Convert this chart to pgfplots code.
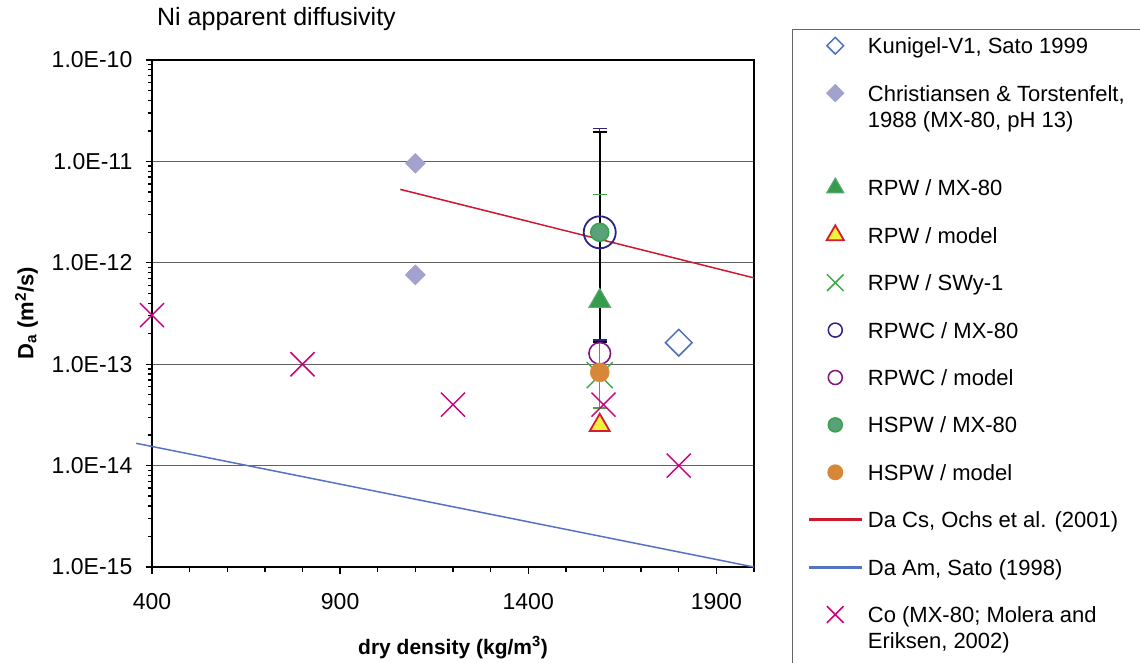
\documentclass[border=0pt]{standalone}
\usepackage{fontspec}
\setmainfont{Liberation Sans}
\usepackage{pgfplots}
\pgfplotsset{compat=1.18}

\definecolor{kunBlue}{RGB}{74,110,190}
\definecolor{chrLav}{RGB}{162,162,206}
\definecolor{triFill}{RGB}{55,155,75}
\definecolor{triEdge}{RGB}{90,170,120}
\definecolor{yelFill}{RGB}{245,240,60}
\definecolor{yelEdge}{RGB}{210,30,45}
\definecolor{swyGreen}{RGB}{60,170,75}
\definecolor{rpwcNavy}{RGB}{45,35,135}
\definecolor{rpwcPurple}{RGB}{130,20,130}
\definecolor{hspwFill}{RGB}{90,160,120}
\definecolor{hspwEdge}{RGB}{50,165,75}
\definecolor{hspwOrange}{RGB}{215,135,55}
\definecolor{ochsRed}{RGB}{205,25,45}
\definecolor{amBlue}{RGB}{85,115,195}
\definecolor{coMag}{RGB}{205,0,125}

\begin{document}
\begin{tikzpicture}
\begin{axis}[
  at={(152pt,95pt)}, anchor=south west,
  scale only axis, width=602pt, height=507pt,
  xmin=400, xmax=2000,
  ymode=log, ymin=1e-15, ymax=1e-10,
  clip=false,
  axis line style={black, line width=1.8pt},
  xtick={400,900,1400,1900},
  xticklabels={400,900,1400,1900},
  minor xtick={500,600,700,800,1000,1100,1200,1300,1500,1600,1700,1800,2000},
  ytick={1e-15,1e-14,1e-13,1e-12,1e-11,1e-10},
  yticklabels={1.0E-15,1.0E-14,1.0E-13,1.0E-12,1.0E-11,1.0E-10},
  minor ytick={2e-15,3e-15,4e-15,5e-15,6e-15,7e-15,8e-15,9e-15,
               2e-14,3e-14,4e-14,5e-14,6e-14,7e-14,8e-14,9e-14,
               2e-13,3e-13,4e-13,5e-13,6e-13,7e-13,8e-13,9e-13,
               2e-12,3e-12,4e-12,5e-12,6e-12,7e-12,8e-12,9e-12,
               2e-11,3e-11,4e-11,5e-11,6e-11,7e-11,8e-11,9e-11},
  tick pos=left, tick align=outside,
  major tick length=6.5pt, minor tick length=4.5pt,
  every tick/.style={black, line width=1.3pt},
  ymajorgrids, major grid style={black!62, line width=1.3pt},
  /pgf/number format/assume math mode=true,
  ticklabel style={font=\fontsize{23}{27}\selectfont},
  yticklabel style={anchor=east, inner sep=0pt, xshift=-13pt},
  xticklabel style={anchor=north, inner sep=0pt, yshift=-20pt},
  title={Ni apparent diffusivity},
  title style={at={(axis description cs:0.0083,1.0572)}, anchor=base west,
               inner sep=0pt, font=\fontsize{25}{30}\selectfont},
  xlabel={dry density (kg/m\textsuperscript{3})},
  xlabel style={at={(axis description cs:0.5,-0.1716)}, anchor=base,
                inner sep=0pt, font=\fontsize{21}{25}\selectfont\bfseries},
  ylabel={D\textsubscript{a} (m\textsuperscript{2}/s)},
  ylabel style={at={(axis description cs:-0.1972,0.5)}, anchor=base,
                inner sep=0pt, font=\fontsize{22}{26}\selectfont\bfseries},
  legend image code/.code={\draw[mark repeat=2,mark phase=2,#1]
      plot coordinates {(0pt,0pt) (26pt,0pt) (52pt,0pt)};},
  legend style={at={(axis description cs:1.0631,1.0611)}, anchor=north west,
      draw=black!60, line width=1.3pt, fill=white,
      inner xsep=16pt, inner ysep=5pt, row sep=25.4pt, column sep=6pt,
      font=\fontsize{22}{26}\selectfont,
      nodes={inner sep=0pt, text height=19pt, text depth=3pt, anchor=west},
      cells={anchor=west}},
]

% trend lines (drawn first so the markers sit on top)
\addplot[forget plot, draw=ochsRed, line width=1.5pt, mark=none]
  coordinates {(1060,5.3e-12) (2000,7.1e-13)};
\addplot[forget plot, draw=amBlue, line width=1.5pt, mark=none]
  coordinates {(358,1.66e-14) (2000,1e-15)};

% error bars of the 1590 kg/m3 measurements: bar, then caps
\addplot[forget plot, draw=swyGreen, line width=1.3pt, mark=-, mark size=7pt,
  mark options={draw=swyGreen, line width=1.3pt}]
  coordinates {(1590,3.7e-14) (1590,4.7e-12)};
\addplot[forget plot, draw=rpwcNavy, line width=1.3pt, mark=-, mark size=7pt,
  mark options={draw=rpwcNavy, line width=1.3pt}]
  coordinates {(1590,1.73e-13) (1590,2.12e-11)};
\addplot[forget plot, draw=black, line width=2.2pt, mark=-, mark size=7pt,
  mark options={draw=black, line width=2pt}]
  coordinates {(1590,1.67e-13) (1590,1.96e-11)};

% Kunigel-V1, Sato 1999
\addplot[forget plot, only marks, mark=square, mark size=9.4pt,
  mark options={rotate=45, draw=kunBlue, line width=1.5pt}]
  coordinates {(1800,1.63e-13)};
\addlegendimage{only marks, mark=square, mark size=5.9pt,
  mark options={rotate=45, draw=kunBlue, line width=1.5pt}}
\addlegendentry{Kunigel-V1, Sato 1999}

% Christiansen & Torstenfelt
\addplot[forget plot, only marks, mark=square*, mark size=7.1pt,
  mark options={rotate=45, draw=chrLav, fill=chrLav}]
  coordinates {(1100,9.6e-12) (1100,7.6e-13)};
\addlegendimage{only marks, mark=square*, mark size=5.9pt,
  mark options={rotate=45, draw=chrLav, fill=chrLav}}
\addlegendentry{{\begin{tabular}[t]{@{}l@{}}Christiansen \& Torstenfelt,\hspace*{45pt}\\1988 (MX-80, pH 13)\end{tabular}}}

\addlegendimage{empty legend}
\addlegendentry{}

% RPW / MX-80
\addplot[forget plot, only marks, mark=triangle*, mark size=12.5pt,
  mark options={draw=triEdge, fill=triFill, line width=1pt}]
  coordinates {(1590,4.2e-13)};
\addlegendimage{only marks, mark=triangle*, mark size=10pt,
  mark options={draw=triEdge, fill=triFill, line width=1pt}}
\addlegendentry{RPW / MX-80}

% RPW / model
\addplot[forget plot, only marks, mark=triangle*, mark size=11.5pt,
  mark options={draw=yelEdge, fill=yelFill, line width=1.8pt}]
  coordinates {(1590,2.5e-14)};
\addlegendimage{only marks, mark=triangle*, mark size=10pt,
  mark options={draw=yelEdge, fill=yelFill, line width=1.8pt}}
\addlegendentry{RPW / model}

% RPW / SWy-1
\addplot[forget plot, only marks, mark=x, mark size=18.4pt,
  mark options={draw=swyGreen, line width=1.5pt}]
  coordinates {(1590,7.8e-14)};
\addlegendimage{only marks, mark=x, mark size=11.7pt,
  mark options={draw=swyGreen, line width=1.5pt}}
\addlegendentry{RPW / SWy-1}

% RPWC / MX-80
\addplot[forget plot, only marks, mark=o, mark size=16pt,
  mark options={draw=rpwcNavy, line width=1.8pt}]
  coordinates {(1590,2.0e-12)};
\addlegendimage{only marks, mark=o, mark size=7pt,
  mark options={draw=rpwcNavy, line width=1.5pt}}
\addlegendentry{RPWC / MX-80}

% RPWC / model
\addplot[forget plot, only marks, mark=o, mark size=10.8pt,
  mark options={draw=rpwcPurple, line width=1.6pt}]
  coordinates {(1590,1.28e-13)};
\addlegendimage{only marks, mark=o, mark size=7pt,
  mark options={draw=rpwcPurple, line width=1.5pt}}
\addlegendentry{RPWC / model}

% HSPW / MX-80
\addplot[forget plot, only marks, mark=*, mark size=9pt,
  mark options={draw=hspwEdge, fill=hspwFill, line width=1.5pt}]
  coordinates {(1590,2.0e-12)};
\addlegendimage{only marks, mark=*, mark size=7pt,
  mark options={draw=hspwEdge, fill=hspwFill, line width=1.5pt}}
\addlegendentry{HSPW / MX-80}

% HSPW / model
\addplot[forget plot, only marks, mark=*, mark size=9.5pt,
  mark options={draw=hspwOrange, fill=hspwOrange}]
  coordinates {(1590,8.3e-14)};
\addlegendimage{only marks, mark=*, mark size=7.3pt,
  mark options={draw=hspwOrange, fill=hspwOrange}}
\addlegendentry{HSPW / model}

% legend keys of the two trend lines, as thin filled strips
\addlegendimage{legend image code/.code={%
  \fill[ochsRed] (0pt,-0.9pt) rectangle (52pt,0.9pt);}}
\addlegendentry{Da Cs, Ochs et al. (2001)}
\addlegendimage{legend image code/.code={%
  \fill[amBlue] (0pt,-0.8pt) rectangle (52pt,0.8pt);}}
\addlegendentry{Da Am, Sato (1998)}

% Co, MX-80
\addplot[forget plot, only marks, mark=x, mark size=17pt,
  mark options={draw=coMag, line width=1.5pt}]
  coordinates {(400,3.05e-13) (800,1e-13) (1200,4e-14) (1600,4e-14) (1800,1e-14)};
\addlegendimage{only marks, mark=x, mark size=11.7pt,
  mark options={draw=coMag, line width=1.5pt}}
\addlegendentry{{\begin{tabular}[t]{@{}l@{}}Co (MX-80; Molera and\\Eriksen, 2002)\end{tabular}}}

% keeps the legend frame running on below the last entry
\addlegendimage{empty legend}
\addlegendentry{}

\end{axis}
\pgfresetboundingbox
\path[use as bounding box] (0,0) rectangle (1140pt,662pt);
\end{tikzpicture}
\end{document}
